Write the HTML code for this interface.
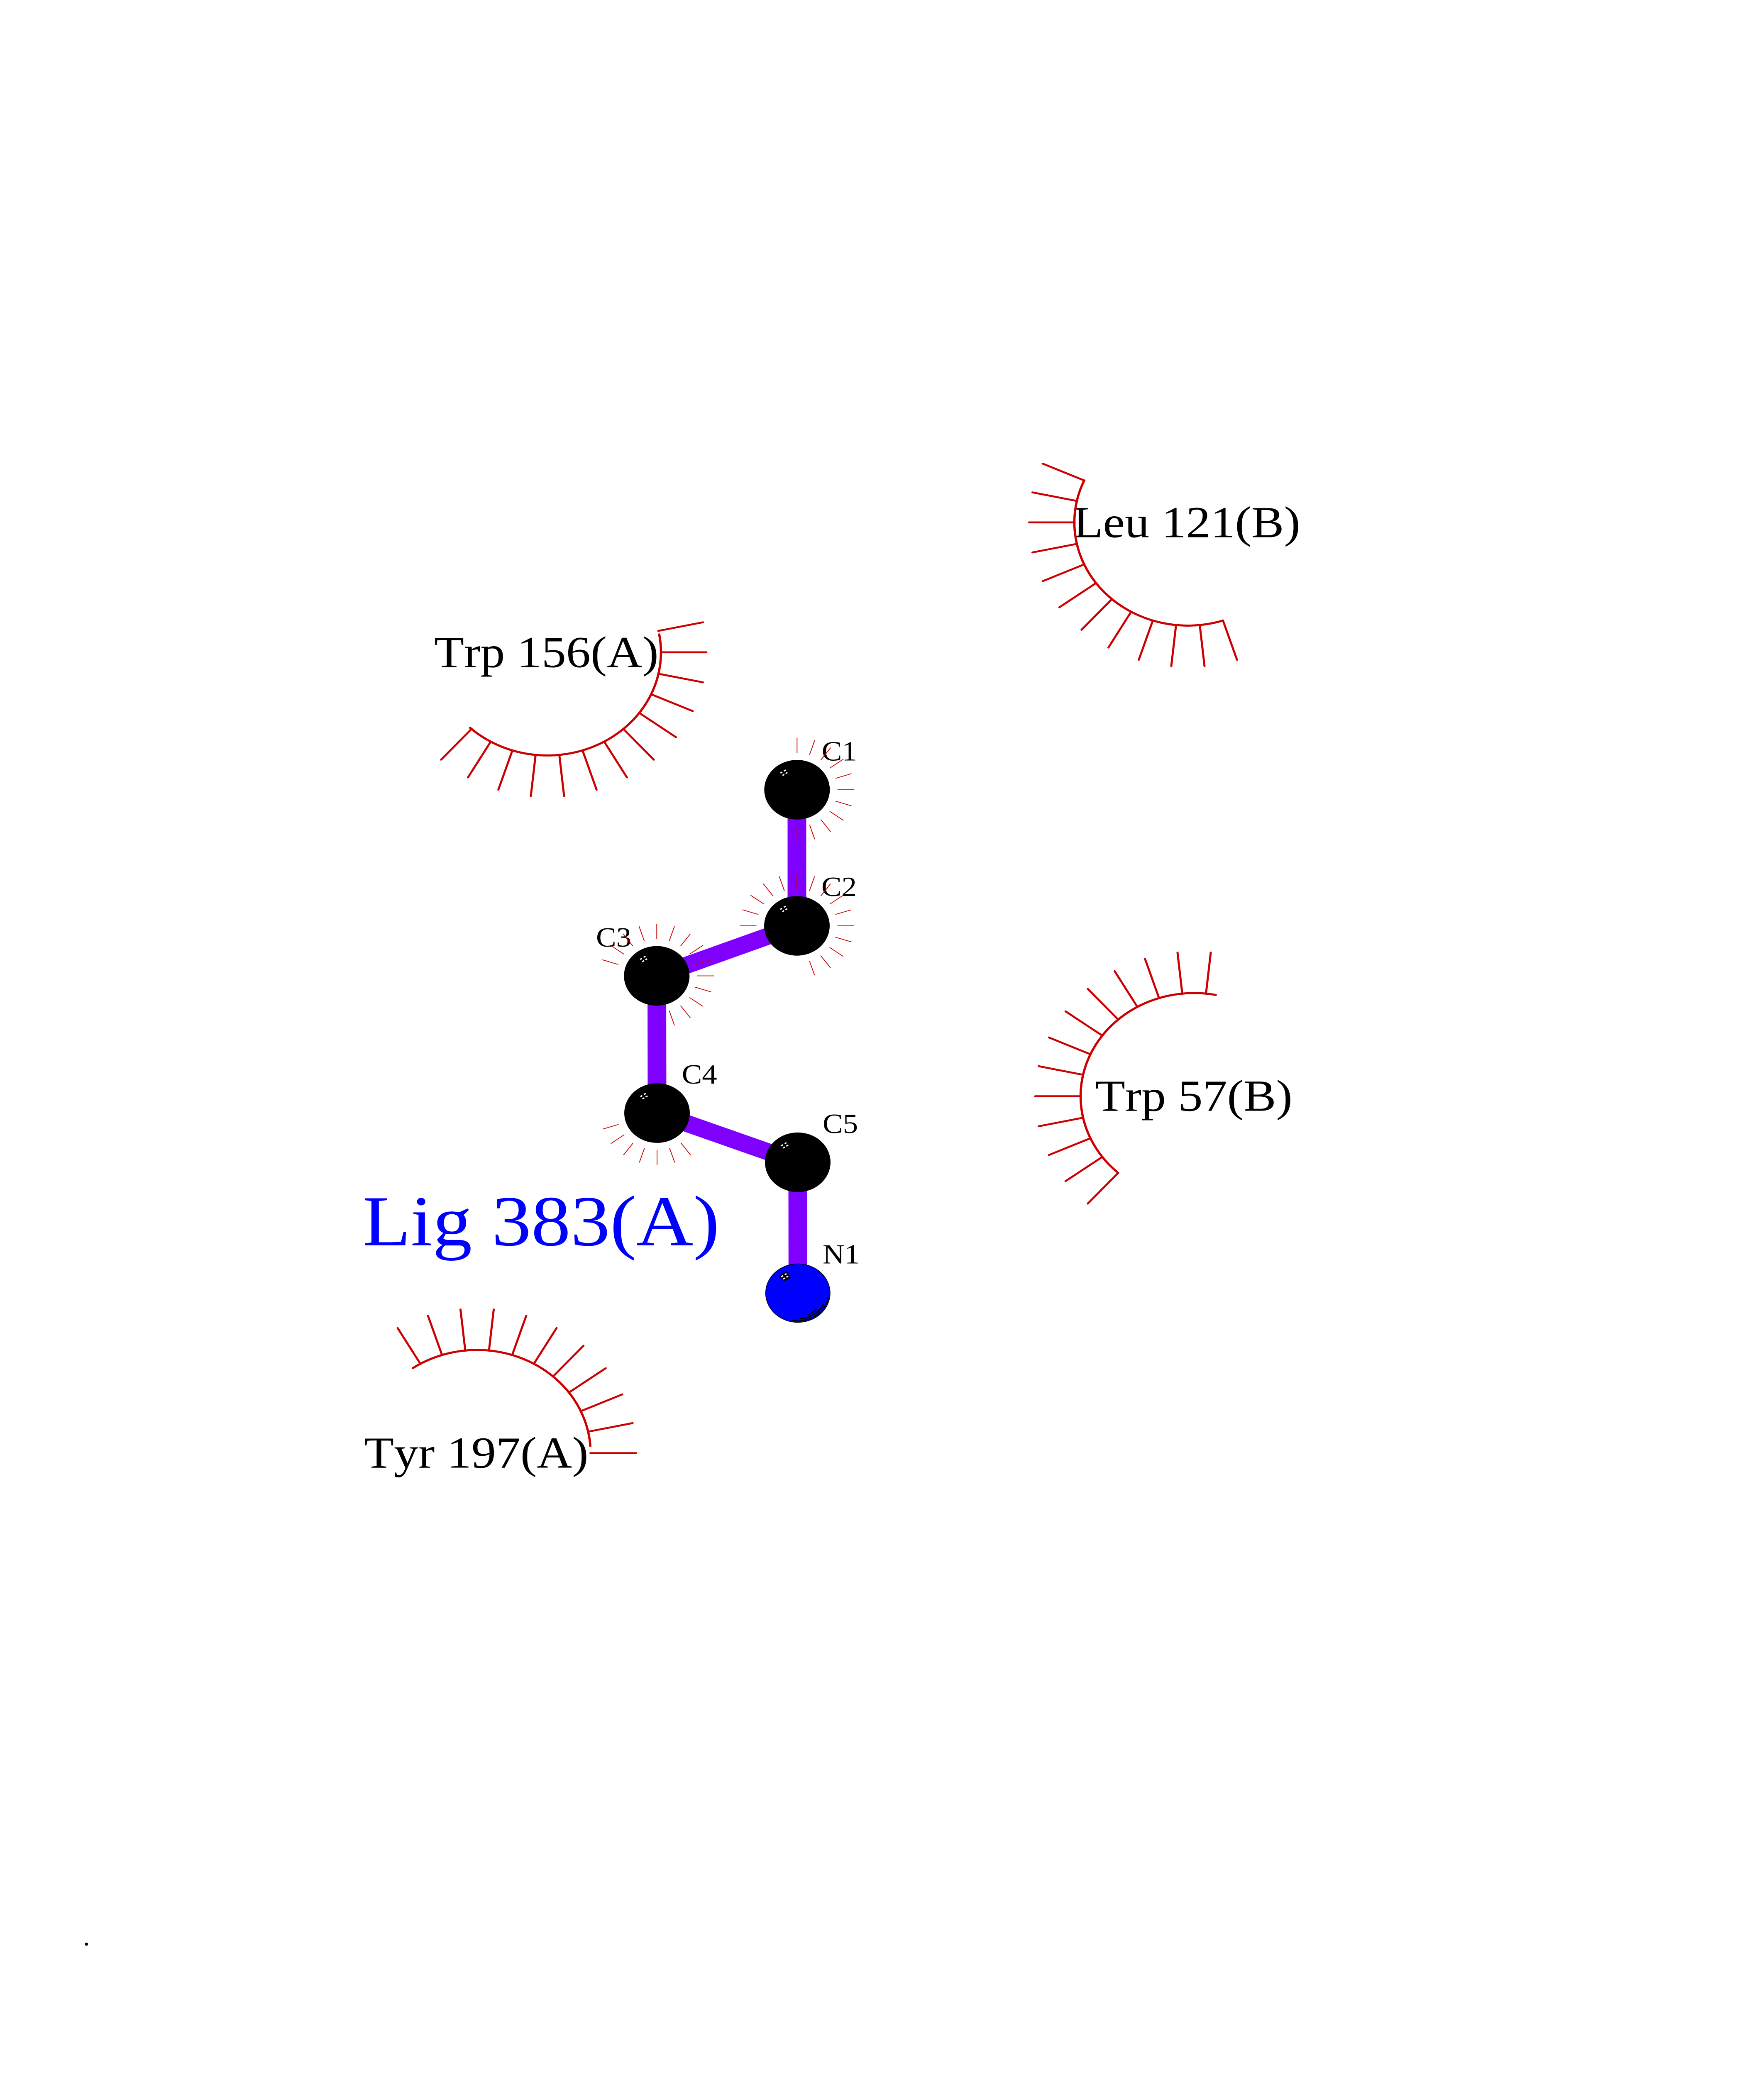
<!DOCTYPE html>
<html><head><meta charset="utf-8"><title>Lig 383(A)</title>
<style>html,body{margin:0;padding:0;background:#fff;width:100vw;height:100vh;overflow:hidden}svg{display:block;position:fixed;left:0;top:0;width:100vw;height:100vh}
text{font-family:"Liberation Serif",serif;font-kerning:none;fill:#000}
.r{font-size:118px}.a{font-size:73px}
.t line{stroke:#CC0000;stroke-width:5;stroke-linecap:round}
.w line{stroke:#CC0000;stroke-width:1.9}
.arc{fill:none;stroke:#CC0000;stroke-width:5.5;stroke-linecap:round}
</style></head><body>
<svg xmlns="http://www.w3.org/2000/svg" viewBox="0 0 4250 5500" preserveAspectRatio="none">

<g stroke="#8000FF" stroke-width="45" fill="none">
<line x1="1920" y1="2093" x2="1920" y2="2454"/>
<line x1="1920" y1="2454" x2="1582.5" y2="2586.6"/>
<line x1="1582.5" y1="2586.6" x2="1583" y2="2950"/>
<line x1="1583" y1="2950" x2="1922" y2="3080.7"/>
<line x1="1922" y1="3080.7" x2="1922.3" y2="3427.5"/>
</g>

<g fill="#000">
<circle cx="1920.3" cy="2093.3" r="79"/>
<circle cx="1920" cy="2454" r="79"/>
<circle cx="1582.3" cy="2586.6" r="79"/>
<circle cx="1583" cy="2950.3" r="79"/>
<circle cx="1922" cy="3080.7" r="79"/>
</g>
<circle cx="1922.3" cy="3427.5" r="77.6" fill="#0000FF" stroke="#000" stroke-width="1.6"/>
<g fill="none" stroke="#000" stroke-width="3.3" stroke-linecap="round">
<path d="M1995.2 3440.1A74 74 0 0 1 1909.1 3500.3"/>
<path d="M1984.4 3456.4A68.5 68.5 0 0 1 1928.3 3495.7"/>
<path d="M1966.6 3471.5A62.5 62.5 0 0 1 1948.7 3484.1"/>
</g>
<polygon points="1876.7,3382.7 1895.7,3369.3 1904.3,3386.7 1889.3,3396.3" fill="#000"/>

<g fill="#fff">
<g transform="translate(1888.7 2048)"><rect x="-2.6" y="-1.7" width="5.2" height="3.4" transform="translate(-6.3 0) rotate(-33)"/><rect x="-2.6" y="-1.7" width="5.2" height="3.4" transform="translate(2.3 -5.7) rotate(-33)"/><rect x="-2.6" y="-1.7" width="5.2" height="3.4" transform="translate(6.3 1) rotate(-33)"/><rect x="-2.6" y="-1.7" width="5.2" height="3.4" transform="translate(-1.3 6) rotate(-33)"/></g>
<g transform="translate(1888.4 2409)"><rect x="-2.6" y="-1.7" width="5.2" height="3.4" transform="translate(-6.3 0) rotate(-33)"/><rect x="-2.6" y="-1.7" width="5.2" height="3.4" transform="translate(2.3 -5.7) rotate(-33)"/><rect x="-2.6" y="-1.7" width="5.2" height="3.4" transform="translate(6.3 1) rotate(-33)"/><rect x="-2.6" y="-1.7" width="5.2" height="3.4" transform="translate(-1.3 6) rotate(-33)"/></g>
<g transform="translate(1550.7 2541.8)"><rect x="-2.6" y="-1.7" width="5.2" height="3.4" transform="translate(-6.3 0) rotate(-33)"/><rect x="-2.6" y="-1.7" width="5.2" height="3.4" transform="translate(2.3 -5.7) rotate(-33)"/><rect x="-2.6" y="-1.7" width="5.2" height="3.4" transform="translate(6.3 1) rotate(-33)"/><rect x="-2.6" y="-1.7" width="5.2" height="3.4" transform="translate(-1.3 6) rotate(-33)"/></g>
<g transform="translate(1551.4 2905.3)"><rect x="-2.6" y="-1.7" width="5.2" height="3.4" transform="translate(-6.3 0) rotate(-33)"/><rect x="-2.6" y="-1.7" width="5.2" height="3.4" transform="translate(2.3 -5.7) rotate(-33)"/><rect x="-2.6" y="-1.7" width="5.2" height="3.4" transform="translate(6.3 1) rotate(-33)"/><rect x="-2.6" y="-1.7" width="5.2" height="3.4" transform="translate(-1.3 6) rotate(-33)"/></g>
<g transform="translate(1890.4 3035.7)"><rect x="-2.6" y="-1.7" width="5.2" height="3.4" transform="translate(-6.3 0) rotate(-33)"/><rect x="-2.6" y="-1.7" width="5.2" height="3.4" transform="translate(2.3 -5.7) rotate(-33)"/><rect x="-2.6" y="-1.7" width="5.2" height="3.4" transform="translate(6.3 1) rotate(-33)"/><rect x="-2.6" y="-1.7" width="5.2" height="3.4" transform="translate(-1.3 6) rotate(-33)"/></g>
<g transform="translate(1890.6 3383)"><rect x="-2.6" y="-1.7" width="5.2" height="3.4" transform="translate(-6.3 0) rotate(-33)"/><rect x="-2.6" y="-1.7" width="5.2" height="3.4" transform="translate(2.3 -5.7) rotate(-33)"/><rect x="-2.6" y="-1.7" width="5.2" height="3.4" transform="translate(6.3 1) rotate(-33)"/><rect x="-2.6" y="-1.7" width="5.2" height="3.4" transform="translate(-1.3 6) rotate(-33)"/></g>
</g>

<text class="a" x="1979.7" y="2015.7">C1</text>
<text class="a" x="1979" y="2375">C2</text>
<text class="a" x="1436" y="2509">C3</text>
<text class="a" x="1642.6" y="2872">C4</text>
<text class="a" x="1982" y="3003">C5</text>
<text class="a" x="1982" y="3348.7">N1</text>

<text class="r" x="2585.6" y="1423.7">Leu 121(B)</text>
<text class="r" x="1046" y="1768">Trp 156(A)</text>
<text class="r" x="2638.7" y="2944">Trp 57(B)</text>
<text class="r" x="877" y="3890">Tyr 197(A)</text>
<text x="873.5" y="3300.7" font-size="190" style="fill:#0000FF">Lig 383(A)</text>
<text x="199.5" y="5156" font-size="70">.</text>

<!-- atom whiskers: line along +x, rotation = image angle -->
<g class="w" transform="translate(1920.3 2093.3)">
<line x1="97.5" x2="138" transform="rotate(-90)"/><line x1="97.5" x2="138" transform="rotate(-72)"/><line x1="97.5" x2="138" transform="rotate(-54)"/><line x1="97.5" x2="138" transform="rotate(-36)"/><line x1="97.5" x2="138" transform="rotate(-18)"/><line x1="97.5" x2="138" transform="rotate(0)"/><line x1="97.5" x2="138" transform="rotate(18)"/><line x1="97.5" x2="138" transform="rotate(36)"/><line x1="97.5" x2="138" transform="rotate(54)"/><line x1="97.5" x2="138" transform="rotate(72)"/><line x1="97.5" x2="138" transform="rotate(90)"/>
</g>
<g class="w" transform="translate(1920 2454)">
<line x1="97.5" x2="138" transform="rotate(-180)"/><line x1="97.5" x2="138" transform="rotate(-162)"/><line x1="97.5" x2="138" transform="rotate(-144)"/><line x1="97.5" x2="138" transform="rotate(-126)"/><line x1="97.5" x2="138" transform="rotate(-108)"/><line x1="97.5" x2="138" transform="rotate(-90)"/><line x1="97.5" x2="138" transform="rotate(-72)"/><line x1="97.5" x2="138" transform="rotate(-54)"/><line x1="97.5" x2="138" transform="rotate(-36)"/><line x1="97.5" x2="138" transform="rotate(-18)"/><line x1="97.5" x2="138" transform="rotate(0)"/><line x1="97.5" x2="138" transform="rotate(18)"/><line x1="97.5" x2="138" transform="rotate(36)"/><line x1="97.5" x2="138" transform="rotate(54)"/><line x1="97.5" x2="138" transform="rotate(72)"/>
</g>
<g class="w" transform="translate(1582.3 2586.6)">
<line x1="97.5" x2="138" transform="rotate(-162)"/><line x1="97.5" x2="138" transform="rotate(-144)"/><line x1="97.5" x2="138" transform="rotate(-126)"/><line x1="97.5" x2="138" transform="rotate(-108)"/><line x1="97.5" x2="138" transform="rotate(-90)"/><line x1="97.5" x2="138" transform="rotate(-72)"/><line x1="97.5" x2="138" transform="rotate(-54)"/><line x1="97.5" x2="138" transform="rotate(-36)"/><line x1="97.5" x2="138" transform="rotate(-18)"/><line x1="97.5" x2="138" transform="rotate(0)"/><line x1="97.5" x2="138" transform="rotate(18)"/><line x1="97.5" x2="138" transform="rotate(36)"/><line x1="97.5" x2="138" transform="rotate(54)"/><line x1="97.5" x2="138" transform="rotate(72)"/>
</g>
<g class="w" transform="translate(1583 2950.3)">
<line x1="97.5" x2="138" transform="rotate(54)"/><line x1="97.5" x2="138" transform="rotate(72)"/><line x1="97.5" x2="138" transform="rotate(90)"/><line x1="97.5" x2="138" transform="rotate(108)"/><line x1="97.5" x2="138" transform="rotate(126)"/><line x1="97.5" x2="138" transform="rotate(144)"/><line x1="97.5" x2="138" transform="rotate(162)"/>
</g>

<!-- residues -->
<path class="arc" d="M2612.1 1273.5A273.5 273.5 0 0 0 2946.5 1644.8"/>
<g class="t" transform="translate(2862 1384.7)">
<line x1="273" x2="383" transform="rotate(204)"/><line x1="273" x2="383" transform="rotate(192)"/><line x1="273" x2="383" transform="rotate(180)"/><line x1="273" x2="383" transform="rotate(168)"/><line x1="273" x2="383" transform="rotate(156)"/><line x1="273" x2="383" transform="rotate(144)"/><line x1="273" x2="383" transform="rotate(132)"/><line x1="273" x2="383" transform="rotate(120)"/><line x1="273" x2="383" transform="rotate(108)"/><line x1="273" x2="383" transform="rotate(96)"/><line x1="273" x2="383" transform="rotate(84)"/><line x1="273" x2="383" transform="rotate(72)"/>
</g>

<path class="arc" d="M1588.3 1681.5A273.5 273.5 0 0 1 1132.5 1929"/>
<g class="t" transform="translate(1319 1729)">
<line x1="273" x2="383" transform="rotate(-12)"/><line x1="273" x2="383" transform="rotate(0)"/><line x1="273" x2="383" transform="rotate(12)"/><line x1="273" x2="383" transform="rotate(24)"/><line x1="273" x2="383" transform="rotate(36)"/><line x1="273" x2="383" transform="rotate(48)"/><line x1="273" x2="383" transform="rotate(60)"/><line x1="273" x2="383" transform="rotate(72)"/><line x1="273" x2="383" transform="rotate(84)"/><line x1="273" x2="383" transform="rotate(96)"/><line x1="273" x2="383" transform="rotate(108)"/><line x1="273" x2="383" transform="rotate(120)"/><line x1="273" x2="383" transform="rotate(132)"/>
</g>

<path class="arc" d="M2929.2 2637.2A273.5 273.5 0 0 0 2690.5 3105.7"/>
<g class="t" transform="translate(2877 2905.7)">
<line x1="273" x2="383" transform="rotate(276)"/><line x1="273" x2="383" transform="rotate(264)"/><line x1="273" x2="383" transform="rotate(252)"/><line x1="273" x2="383" transform="rotate(240)"/><line x1="273" x2="383" transform="rotate(228)"/><line x1="273" x2="383" transform="rotate(216)"/><line x1="273" x2="383" transform="rotate(204)"/><line x1="273" x2="383" transform="rotate(192)"/><line x1="273" x2="383" transform="rotate(180)"/><line x1="273" x2="383" transform="rotate(168)"/><line x1="273" x2="383" transform="rotate(156)"/><line x1="273" x2="383" transform="rotate(144)"/><line x1="273" x2="383" transform="rotate(132)"/>
</g>

<path class="arc" d="M1422.3 3832.6A273.5 273.5 0 0 0 994.6 3626.3"/>
<g class="t" transform="translate(1149.5 3851.7)">
<line x1="273" x2="383" transform="rotate(0)"/><line x1="273" x2="383" transform="rotate(-12)"/><line x1="273" x2="383" transform="rotate(-24)"/><line x1="273" x2="383" transform="rotate(-36)"/><line x1="273" x2="383" transform="rotate(-48)"/><line x1="273" x2="383" transform="rotate(-60)"/><line x1="273" x2="383" transform="rotate(-72)"/><line x1="273" x2="383" transform="rotate(-84)"/><line x1="273" x2="383" transform="rotate(-96)"/><line x1="273" x2="383" transform="rotate(-108)"/><line x1="273" x2="383" transform="rotate(-120)"/>
</g>
</svg>
</body></html>
